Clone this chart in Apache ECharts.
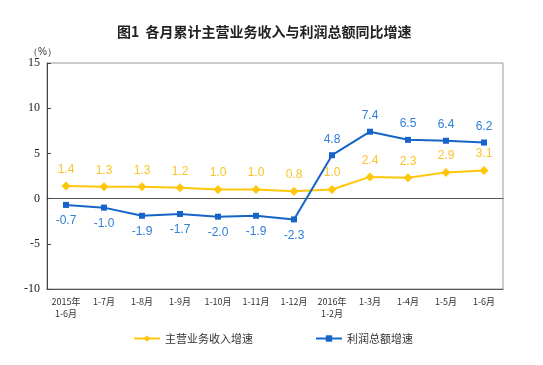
<!DOCTYPE html>
<html>
<head>
<meta charset="utf-8">
<script src="https://cdn.jsdelivr.net/npm/echarts@6/dist/echarts.min.js"></script>
<style>html,body{margin:0;padding:0;background:#fff;}#c{width:543px;height:365px;}</style>
</head>
<body>
<div id="c"></div>
<script>
var categories = ['2015年\n1-6月','1-7月','1-8月','1-9月','1-10月','1-11月','1-12月','2016年\n1-2月','1-3月','1-4月','1-5月','1-6月'];
var revenueGrowth = [1.4,1.3,1.3,1.2,1.0,1.0,0.8,1.0,2.4,2.3,2.9,3.1];
var profitGrowth = [-0.7,-1.0,-1.9,-1.7,-2.0,-1.9,-2.3,4.8,7.4,6.5,6.4,6.2];
var yTicks = [-10,-5,0,5,10,15];

var chart = echarts.init(document.getElementById('c'));
var yellow = '#FFC60A', blue = '#1565C8';
var profitData = profitGrowth.map(function(v){
  return {value: v, label: {position: v < 0 ? 'bottom' : 'top'}};
});
chart.setOption({
  animation: false,
  backgroundColor: '#fff',
  title: {
    text: '图1  各月累计主营业务收入与利润总额同比增速',
    left: 112, top: 20,
    textStyle: {fontSize: 14, fontWeight: 'bold', color: '#222', fontFamily: 'Noto Sans CJK SC'}
  },
  grid: {left: 47, right: 40, top: 63, bottom: 76, show: true, borderColor: '#999', borderWidth: 1},
  legend: {
    bottom: 16, left: 128, itemGap: 62, itemWidth: 26, itemHeight: 8,
    textStyle: {fontSize: 11, color: '#333', fontFamily: 'Noto Sans CJK SC'},
    data: ['主营业务收入增速','利润总额增速']
  },
  xAxis: [{
    type: 'category', data: categories, position: 'bottom',
    axisLine: {onZero: true, lineStyle: {color: '#555'}},
    axisTick: {inside: true, length: 5, lineStyle: {color: '#555'}},
    axisLabel: {show: false}
  }, {
    type: 'category', data: categories, position: 'bottom',
    axisLine: {onZero: false, show: true, lineStyle: {color: '#555'}},
    axisTick: {show: false},
    axisLabel: {interval: 0, fontSize: 9, color: '#333', margin: 7, lineHeight: 12, fontFamily: 'Noto Sans CJK SC'}
  }],
  yAxis: {
    type: 'value', min: yTicks[0], max: yTicks[yTicks.length-1], interval: 5,
    name: '（%）', nameLocation: 'end', nameGap: 4,
    nameTextStyle: {fontSize: 10, color: '#333', align: 'right', padding: [0, -10, 0, 0]},
    axisLine: {show: true, lineStyle: {color: '#444'}},
    axisTick: {show: true, inside: true, length: 4, lineStyle: {color: '#444'}},
    splitLine: {show: false},
    axisLabel: {fontSize: 12, color: '#222', fontFamily: 'Liberation Serif', margin: 7}
  },
  series: [{
    name: '主营业务收入增速', type: 'line', data: revenueGrowth,
    symbol: 'diamond', symbolSize: 9,
    itemStyle: {color: yellow}, lineStyle: {color: yellow, width: 2},
    label: {show: true, position: 'top', distance: 6, color: '#F9C42A', fontSize: 12, fontFamily: 'Liberation Sans', formatter: function(p){return p.value.toFixed(1);}}
  }, {
    name: '利润总额增速', type: 'line', data: profitData,
    symbol: 'rect', symbolSize: 6,
    itemStyle: {color: blue}, lineStyle: {color: blue, width: 2},
    label: {show: true, distance: 7, color: '#2F7ED8', fontSize: 12, fontFamily: 'Liberation Sans', formatter: function(p){return (+p.value).toFixed(1);}}
  }]
});
</script>
</body>
</html>
